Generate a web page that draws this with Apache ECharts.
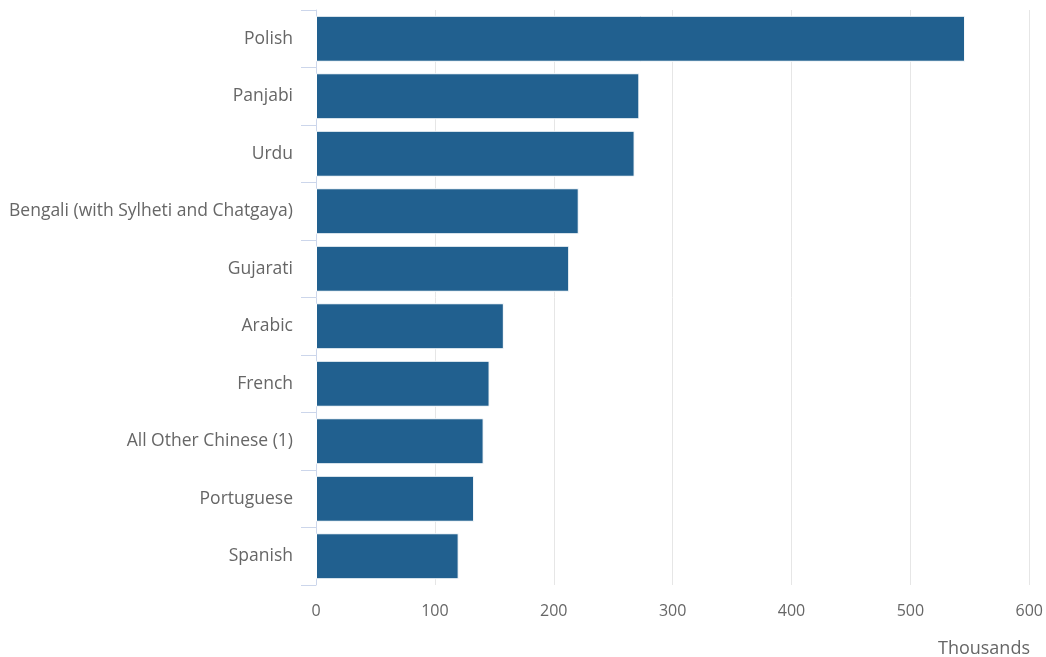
<!DOCTYPE html>
<html>
<head>
<meta charset="utf-8">
<script src="https://cdn.jsdelivr.net/npm/echarts@6/dist/echarts.min.js"></script>
<style>
  html, body { margin: 0; padding: 0; background: #fff; }
  #main { width: 1046px; height: 657px; }
</style>
</head>
<body>
<div id="main"></div>
<script>
// 语言类别（从上到下）
const languages = [
  "Polish",
  "Panjabi",
  "Urdu",
  "Bengali (with Sylheti and Chatgaya)",
  "Gujarati",
  "Arabic",
  "French",
  "All Other Chinese (1)",
  "Portuguese",
  "Spanish",
];
// 使用人数（千人）
const speakers = [546, 272, 268, 221, 213, 158, 146, 141, 133, 120];
const xTicks = { min: 0, max: 600, interval: 100 };
const unitLabel = "Thousands";

const chart = echarts.init(document.getElementById("main"));
const font = "'Open Sans', sans-serif";

const option = {
  animation: false,
  title: {
    text: unitLabel,
    right: 11,
    top: 635,
    textStyle: {
      fontFamily: font,
      fontSize: 18,
      fontWeight: "normal",
      color: "#666",
    },
  },
  grid: {
    left: 316,
    right: 16,
    top: 10,
    bottom: 72,
  },
  xAxis: {
    type: "value",
    min: xTicks.min,
    max: xTicks.max,
    interval: xTicks.interval,
    axisLine: { show: false },
    axisTick: { show: false },
    axisLabel: {
      margin: 18,
      fontFamily: font,
      fontSize: 16,
      color: "#666",
    },
    splitLine: {
      lineStyle: { color: "#e6e6e6", width: 1 },
    },
  },
  yAxis: {
    type: "category",
    inverse: true,
    data: languages,
    axisLine: {
      show: true,
      lineStyle: { color: "#ccd6eb", width: 1 },
    },
    axisTick: {
      show: true,
      length: 15,
      lineStyle: { color: "#ccd6eb" },
    },
    axisLabel: {
      margin: 23,
      fontFamily: font,
      fontSize: 17.5,
      color: "#666",
      padding: [4, 0, 0, 0],
    },
  },
  series: [
    {
      type: "bar",
      data: speakers,
      barWidth: 46,
      itemStyle: {
        color: "#21608f",
        borderColor: "#ffffff",
        borderWidth: 1,
      },
    },
  ],
};

chart.setOption(option);
</script>
</body>
</html>
